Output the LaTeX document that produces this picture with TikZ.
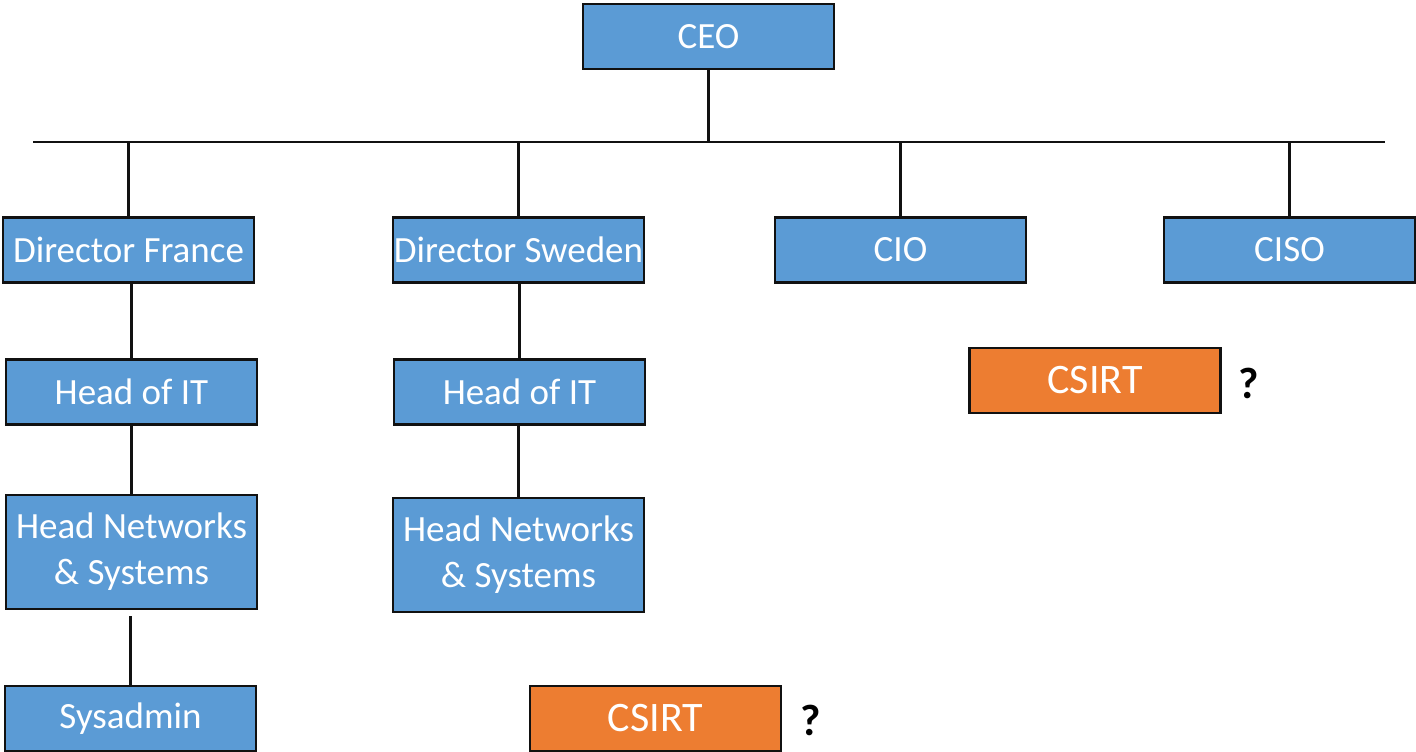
\documentclass[tikz,border=0pt]{standalone}
\usepackage{fontspec}
\setmainfont{Carlito}
\definecolor{boxblue}{HTML}{5B9BD5}
\definecolor{boxorange}{HTML}{ED7D31}
\definecolor{edge}{HTML}{111111}
\begin{document}
\begin{tikzpicture}[x=1pt,y=-1pt,
  role/.style={draw=edge, line width=2.6pt, fill=boxblue, text=white,
    minimum width=251pt, minimum height=65pt, inner sep=0pt, align=center,
    font=\fontsize{37}{46}\selectfont},
  tall/.style={role, minimum height=114pt},
  team/.style={role, fill=boxorange, font=\fontsize{42}{48}\selectfont},
  link/.style={draw=edge, line width=2.6pt},
  query/.style={font=\fontsize{44}{50}\selectfont\bfseries, text=black}]
\useasboundingbox (0,0) rectangle (1416,752);

% top level
\node[role] (ceo) at (708.5,36.5) {CEO};

% directors and C-level
\node[role] (dirF)  at (128.5,250) {Director France};
\node[role] (dirS)  at (518.5,250) {Director Sweden};
\node[role] (cio)   at (900.5,250) {CIO};
\node[role] (ciso)  at (1289.5,250) {CISO};

% France chain
\node[role] (itF)   at (131.5,392) {Head of IT};
\node[tall] (netF)  at (131.5,552) {Head Networks\\\& Systems};
\node[role] (sysF)  at (130.5,718.5) {Sysadmin};

% Sweden chain
\node[role] (itS)   at (519.5,392) {Head of IT};
\node[tall] (netS)  at (518.5,555) {Head Networks\\\& Systems};

% incident response teams
\node[team] (csirtA) at (1095,380.5) {CSIRT};
\node[query] (qA) at (1249,383) {?};
\node[team] (csirtB) at (655.5,718.5) {CSIRT};
\node[query] (qB) at (811,720) {?};

% bus line
\coordinate (busL) at (33,142);
\coordinate (busR) at (1385,142);
\draw[link] (busL) -- (busR);
\draw[link] (ceo.south) -- (ceo.south |- busL);
\foreach \n in {dirF,dirS,cio,ciso}
  \draw[link] (\n.north |- busL) -- (\n.north);

% reporting lines
\draw[link] (itF.north) -- (itF.north |- dirF.south);
\draw[link] (netF.north) -- (netF.north |- itF.south);
\draw[link] (sysF.north) -- ([yshift=-6pt]sysF.north |- netF.south);
\draw[link] (itS.north) -- (itS.north |- dirS.south);
\draw[link] (netS.north) -- (netS.north |- itS.south);
\end{tikzpicture}
\end{document}
